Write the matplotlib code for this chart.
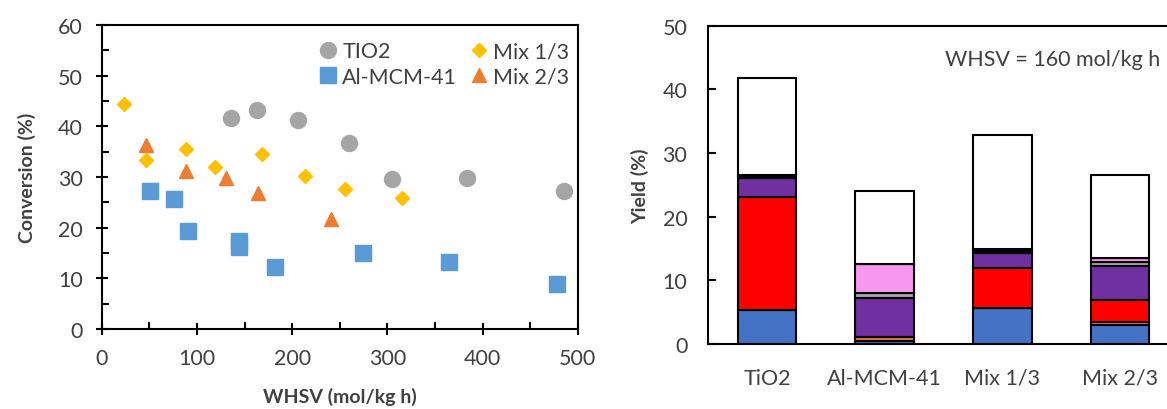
import matplotlib.pyplot as plt
import numpy as np

plt.rcParams['font.family'] = ['Lato', 'DejaVu Sans']

# conversion vs WHSV
tio2_x = [136, 163, 206, 260, 305, 384, 485]
tio2_y = [41.6, 43.3, 41.3, 36.7, 29.7, 29.9, 27.3]
mcm_x = [51, 76, 91, 144, 144, 182, 274, 365, 478]
mcm_y = [27.2, 25.7, 19.3, 17.4, 16.1, 12.2, 15.0, 13.2, 8.9]
mix13_x = [23, 47, 89, 119, 168, 214, 256, 315]
mix13_y = [44.4, 33.4, 35.5, 32.0, 34.6, 30.1, 27.6, 25.8]
mix23_x = [47, 89, 131, 164, 241]
mix23_y = [36.3, 31.1, 29.8, 26.8, 21.7]

# yield at WHSV = 160
catalysts = ['TiO2', 'Al-MCM-41', 'Mix 1/3', 'Mix 2/3']
blue = [5.3, 0.5, 5.6, 3.0]
orange = [0.0, 0.6, 0.0, 0.5]
red = [17.8, 0.0, 6.4, 3.4]
purple = [3.0, 6.2, 2.3, 5.3]
grey = [0.0, 0.7, 0.0, 0.6]
pink = [0.0, 4.5, 0.0, 0.7]
black = [0.4, 0.0, 0.6, 0.0]
white = [15.2, 11.5, 17.9, 13.0]

txt = '#404040'
fs = 15.5
fig = plt.figure(figsize=(11.67, 4.10), dpi=100)

# left panel
ax1 = fig.add_axes([0.0871, 0.1951, 0.4081, 0.7415])
h1, = ax1.plot(tio2_x, tio2_y, 'o', color='#A5A5A5', ms=11.5, label='TIO2')
h2, = ax1.plot(mcm_x, mcm_y, 's', color='#5B9BD5', ms=11, label='Al-MCM-41')
h3, = ax1.plot(mix13_x, mix13_y, 'D', color='#FFC000', ms=7.5, label='Mix 1/3')
h4, = ax1.plot(mix23_x, mix23_y, '^', color='#ED7D31', ms=10.5, label='Mix 2/3')
ax1.set_xlim(0, 500)
ax1.set_ylim(0, 60)
ax1.set_xticks(np.arange(0, 501, 100))
ax1.set_xticks(np.arange(50, 500, 100), minor=True)
ax1.set_yticks(np.arange(0, 61, 10))
ax1.set_yticks(np.arange(5, 60, 10), minor=True)
ax1.tick_params(which='major', direction='inout', length=9, width=1.5,
                labelsize=fs, labelcolor=txt, pad=9)
ax1.tick_params(which='minor', direction='in', length=5, width=1.5)
ax1.tick_params(top=False, right=False, which='both')
for s in ax1.spines.values():
    s.set_linewidth(1.5)
ax1.set_xlabel('WHSV (mol/kg h)', fontsize=14, fontweight='bold', color=txt, labelpad=14)
ax1.set_ylabel('Conversion (%)', fontsize=14, fontweight='bold', color=txt, labelpad=16)
ax1.legend(handles=[h1, h2, h3, h4], ncol=2, frameon=False, loc='upper left',
           bbox_to_anchor=(0.44, 0.975), fontsize=fs, labelcolor=txt,
           handlelength=0.8, handletextpad=0.25, columnspacing=0.6,
           labelspacing=0.25, borderaxespad=0)

# right panel
ax2 = fig.add_axes([0.6069, 0.1585, 0.4033, 0.7768])
x = np.arange(len(catalysts))
bottom = np.zeros(len(catalysts))
for vals, c in [(blue, '#4472C4'), (orange, '#ED7D31'), (red, '#FF0000'),
                (purple, '#7030A0'), (grey, '#A5A5A5'), (pink, '#F797EE'),
                (black, '#000000'), (white, '#FFFFFF')]:
    ax2.bar(x, vals, 0.5, bottom=bottom, color=c, edgecolor='black', linewidth=1.5)
    bottom += np.array(vals)
ax2.set_xlim(-0.5, 3.5)
ax2.set_ylim(0, 50)
ax2.set_xticks(x)
ax2.set_xticklabels(catalysts)
ax2.set_yticks(np.arange(0, 51, 10))
ax2.tick_params(axis='y', direction='in', length=6, width=1.5, labelsize=fs,
                labelcolor=txt, pad=15)
ax2.tick_params(axis='x', length=0, labelsize=fs, labelcolor=txt, pad=17)
for s in ax2.spines.values():
    s.set_linewidth(1.5)
ax2.set_ylabel('Yield (%)', fontsize=14, fontweight='bold', color=txt, labelpad=10)
ax2.text(0.503, 0.895, 'WHSV = 160 mol/kg h', transform=ax2.transAxes,
         fontsize=fs, color=txt, ha='left', va='center')

fig.savefig('out.png', dpi=100)
